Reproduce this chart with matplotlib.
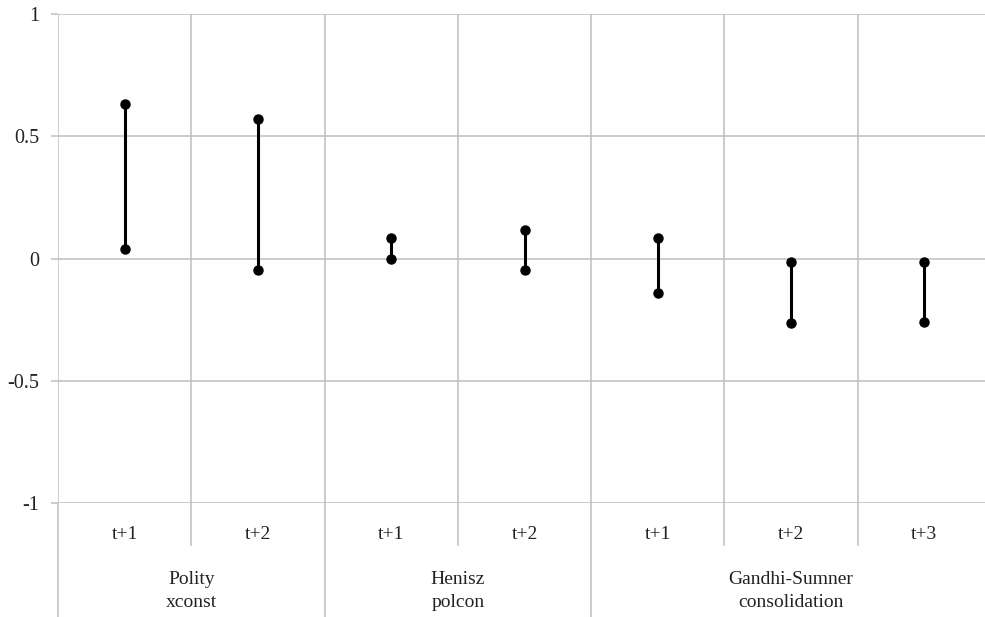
import matplotlib.pyplot as plt

# Confidence-interval style ranges
periods = ["t+1", "t+2", "t+1", "t+2", "t+1", "t+2", "t+3"]
lows = [0.04, -0.045, 0.0, -0.045, -0.14, -0.265, -0.258]
highs = [0.63, 0.57, 0.082, 0.115, 0.082, -0.016, -0.016]

groups = ["Polity\nxconst", "Henisz\npolcon", "Gandhi-Sumner\nconsolidation"]
group_sizes = [2, 2, 3]

grid_col = "#bfbfbf"
txt_col = "#222222"
plt.rcParams["font.family"] = ["Liberation Serif", "DejaVu Serif"]

fig = plt.figure(figsize=(9.85, 6.17), dpi=100)
ax = fig.add_axes([58 / 985, 114 / 617, 933 / 985, 489 / 617])

xs = [i + 0.5 for i in range(len(periods))]
ax.vlines(xs, lows, highs, color="black", lw=2.2, zorder=3)
ax.plot(xs, lows, "o", color="black", ms=6.5, zorder=4)
ax.plot(xs, highs, "o", color="black", ms=6.5, zorder=4)

ax.set_xlim(0, len(periods))
ax.set_ylim(-1, 1)
ax.set_yticks([-1, -0.5, 0, 0.5, 1])
ax.set_yticklabels(["-1", "-0.5", "0", "0.5", "1"], fontsize=14.5, color=txt_col)
ax.tick_params(axis="y", length=5, width=1.1, color=grid_col, pad=8.5)
ax.set_xticks([])
ax.yaxis.grid(True, color=grid_col, lw=1.1)
for s in ax.spines.values():
    s.set_visible(False)

# vertical separators inside the plot
for i in range(len(periods)):
    ax.axvline(i, color=grid_col, lw=1.1, zorder=1)

trans = ax.get_xaxis_transform()
# period labels below the axis
for x, lab in zip(xs, periods):
    ax.text(x, -0.064, lab, transform=trans, ha="center", va="center",
            fontsize=14, color=txt_col)

# separators below axis: short ones within groups, long ones between groups
start = 0
for name, n in zip(groups, group_sizes):
    ax.plot([start, start], [0, -0.24], transform=trans, color=grid_col,
            lw=1.1, clip_on=False)
    for k in range(1, n):
        ax.plot([start + k, start + k], [0, -0.086], transform=trans,
                color=grid_col, lw=1.1, clip_on=False)
    ax.text(start + n / 2, -0.18, name, transform=trans, ha="center",
            va="center", fontsize=14, color=txt_col, linespacing=1.5)
    start += n

fig.savefig("out.png", dpi=100)
